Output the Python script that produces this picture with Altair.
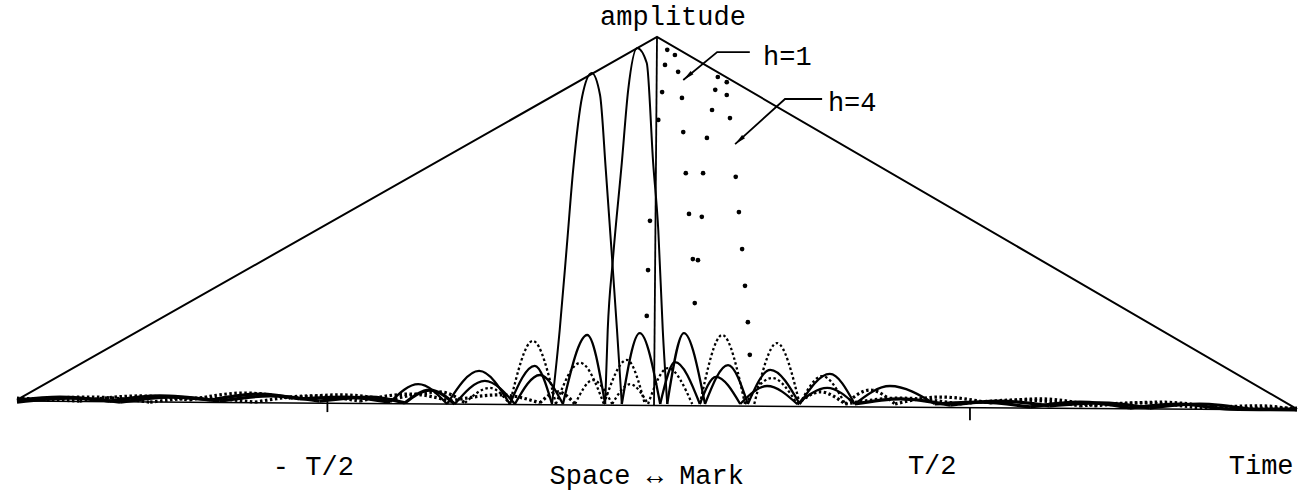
import altair as alt
import pandas as pd

# Time axis in units of T/10 (T/2 = 5), amplitude normalised to the apex.
X_DOMAIN = [-10.2656, 10.2656]
Y_DOMAIN = [-0.2425, 1.1008]
INK = "#000000"
FONT = "Liberation Mono"

# Triangular envelope (-T .. 0 .. T)
env_t = [-10.0, 0.0, 10.0]
env_a = [0.011, 1.0, -0.014]

# Time axis line and the +/- T/2 ticks
axis_t = [-10.0, 10.0]
axis_a = [0.008, -0.016]
tick_t = [-5.15, 4.89]
tick_top = [0.011, -0.011]
tick_bot = [-0.022, -0.044]

# Centre spike
spike_t = [-0.047, 0.0]
spike_a = [-0.003, 1.0]

# Solid responses (two pulses with their side lobes and tails)
p1_t = [-10.0, -9.33, -8.55, -7.77, -6.98, -6.20, -5.58, -4.875, -4.17, -3.73, -3.28,
        -2.78, -2.30, -1.91, -1.64, -1.52, -1.41, -1.31, -1.17, -1.02, -0.89, -0.80,
        -0.70, -0.625, -0.55, -0.27, 0.05, 0.28, 0.67, 0.92, 1.30, 1.72, 2.19, 2.66,
        3.09, 3.80, 4.58, 5.36, 6.14, 6.92, 7.70, 8.48, 9.27, 10.0]
p1_a = [0.011, 0.019, 0.008, 0.022, 0.011, 0.027, 0.014, 0.019, 0.005, 0.054, 0.0,
        0.090, 0.0, 0.104, 0.0, 0.202, 0.428, 0.638, 0.837, 0.902, 0.842, 0.638,
        0.392, 0.202, 0.0, 0.193, 0.0, 0.114, 0.0, 0.074, 0.0, 0.049, 0.0, 0.044,
        0.0, 0.014, -0.003, 0.008, -0.005, 0.003, -0.011, 0.0, -0.014, -0.014]

p2_t = [-10.0, -9.17, -8.39, -7.61, -6.83, -6.05, -5.27, -4.48, -3.94, -3.55, -3.16,
        -2.69, -2.22, -1.83, -1.47, -1.09, -0.81, -0.77, -0.69, -0.55, -0.45, -0.31,
        -0.16, -0.06, 0.02, 0.09, 0.16, 0.42, 0.75, 1.11, 1.42, 1.77, 2.23, 2.70,
        3.09, 3.64, 4.34, 5.05, 5.83, 6.61, 7.39, 8.17, 8.95, 10.0]
p2_a = [0.005, 0.016, 0.005, 0.019, 0.008, 0.022, 0.008, 0.019, 0.003, 0.038, 0.0,
        0.063, 0.0, 0.079, 0.0, 0.188, 0.0, 0.202, 0.392, 0.657, 0.856, 0.970,
        0.929, 0.657, 0.474, 0.202, 0.0, 0.193, 0.0, 0.106, 0.0, 0.093, 0.0, 0.082,
        0.0, 0.049, 0.0, 0.005, -0.008, 0.005, -0.011, 0.0, -0.014, -0.016]

# Dotted responses: side lobes (dotted lines) ...
h1_left_t = [-10.0, -9.02, -8.08, -7.30, -6.44, -5.73, -4.95, -4.17, -3.39, -3.00,
             -2.61, -2.30, -1.94, -1.58, -1.20, -0.83, -0.47, -0.19]
h1_left_a = [0.016, 0.008, 0.022, 0.011, 0.030, 0.016, 0.025, 0.011, 0.033, 0.003,
             0.044, 0.0, 0.172, 0.0, 0.112, 0.0, 0.120, 0.0]
h1_right_t = [0.67, 1.02, 1.375, 1.80, 2.19, 2.55, 2.94, 3.80, 4.73, 5.67, 6.61,
              7.55, 8.48, 9.42, 10.0]
h1_right_a = [0.0, 0.188, 0.0, 0.071, 0.0, 0.033, 0.0, 0.016, 0.0, 0.011, -0.005,
              0.003, -0.011, -0.005, -0.016]

h4_left_t = [-10.0, -8.86, -7.92, -7.14, -6.28, -5.42, -4.64, -3.86, -3.23, -2.45,
             -1.83, -1.55, -1.28, -1.00, -0.70, -0.42, -0.14, 0.17, 0.55]
h4_left_a = [0.008, 0.019, 0.005, 0.016, 0.005, 0.022, 0.008, 0.027, 0.008, 0.025,
             0.003, 0.033, 0.0, 0.065, 0.0, 0.054, 0.0, 0.098, 0.0]
h4_right_t = [1.52, 1.875, 2.23, 2.58, 2.94, 3.33, 3.72, 4.42, 5.20, 5.98, 6.84,
              7.86, 8.80, 10.0]
h4_right_a = [0.0, 0.166, 0.0, 0.076, 0.0, 0.038, 0.0, 0.019, 0.003, 0.014, -0.005,
              0.005, -0.011, -0.011]

# ... and main lobes plotted point by point
h1_dot_t = [0.16, 0.28, 0.125, 0.33, 0.08, 0.39, 0.02, 0.41, 0.45, 0.50, 0.56, 0.59,
            -0.11, -0.14, -0.16]
h1_dot_a = [0.965, 0.951, 0.924, 0.905, 0.850, 0.834, 0.774, 0.741, 0.629, 0.518,
            0.395, 0.275, 0.499, 0.365, 0.240]
h4_dot_t = [0.95, 1.09, 0.91, 1.09, 0.86, 1.14, 0.78, 0.72, 1.23, 0.70, 1.28, 0.64,
            1.33, 1.375, 1.42, 1.45]
h4_dot_a = [0.891, 0.877, 0.856, 0.842, 0.801, 0.779, 0.725, 0.629, 0.619, 0.510,
            0.523, 0.392, 0.422, 0.322, 0.223, 0.134]

# Leader lines for the h labels
lead_h1_t = [0.41, 0.94, 1.45]
lead_h1_a = [0.883, 0.959, 0.959]
lead_h4_t = [1.22, 2.0, 2.58]
lead_h4_a = [0.708, 0.831, 0.831]

# Text labels
centre_labels = ["amplitude", "- T/2", "T/2", "Time", "Space \u2194 Mark"]
centre_label_t = [0.25, -5.37, 4.30, 9.44, -0.16]
centre_label_a = [1.033, -0.193, -0.191, -0.191, -0.218]
side_labels = ["h=1", "h=4"]
side_label_t = [1.656, 2.67]
side_label_a = [0.924, 0.798]

xs = alt.Scale(domain=X_DOMAIN, nice=False, zero=False)
ys = alt.Scale(domain=Y_DOMAIN, nice=False, zero=False)


def X(field="t"):
    return alt.X(f"{field}:Q", scale=xs, axis=None)


def Y(field="a"):
    return alt.Y(f"{field}:Q", scale=ys, axis=None)


def frame(t, a, name="s"):
    return pd.DataFrame({"t": t, "a": a, "k": [name] * len(t)})


def lobes(t, a, name):
    """Cut a response into separate lobes at its minima so each lobe is drawn
    as its own arch (cusps at the nulls). Tall lobes get a finer pen, the
    low ripple near the axis a heavier one."""
    rows, seg = [], 0
    for i in range(len(t)):
        rows.append([t[i], a[i], f"{name}-{seg}"])
        if 0 < i < len(t) - 1 and a[i] <= a[i - 1] and a[i] <= a[i + 1]:
            seg += 1
            rows.append([t[i], a[i], f"{name}-{seg}"])
    df = pd.DataFrame(rows, columns=["t", "a", "k"])
    peak = df.groupby("k")["a"].transform("max")
    df["w"] = 2.3
    df.loc[peak > 0.3, "w"] = 2.0
    df.loc[peak < 0.04, "w"] = 3.2
    return df


envelope = alt.Chart(frame(env_t, env_a)).mark_line(color=INK, strokeWidth=2).encode(x=X(), y=Y())
axis_line = alt.Chart(frame(axis_t, axis_a)).mark_line(color=INK, strokeWidth=1.4).encode(x=X(), y=Y())
ticks = alt.Chart(pd.DataFrame({"t": tick_t, "a": tick_top, "a2": tick_bot})).mark_rule(
    color=INK, strokeWidth=1.8).encode(x=X(), y=Y(), y2="a2:Q")
spike = alt.Chart(frame(spike_t, spike_a)).mark_line(color=INK, strokeWidth=1.8).encode(x=X(), y=Y())

solid = pd.concat([lobes(p1_t, p1_a, "p1"), lobes(p2_t, p2_a, "p2")])
solid_lines = alt.Chart(solid).mark_line(
    color=INK, interpolate="monotone").encode(
    x=X(), y=Y(), detail="k:N", strokeWidth=alt.StrokeWidth("w:Q", scale=None))

dotted = pd.concat([lobes(h1_left_t, h1_left_a, "h1l"), lobes(h1_right_t, h1_right_a, "h1r"),
                    lobes(h4_left_t, h4_left_a, "h4l"), lobes(h4_right_t, h4_right_a, "h4r")])
dotted_lines = alt.Chart(dotted).mark_line(
    color=INK, strokeDash=[2.5, 2.5], interpolate="monotone").encode(
    x=X(), y=Y(), detail="k:N", strokeWidth=alt.StrokeWidth("w:Q", scale=None))

dots = alt.Chart(pd.concat([frame(h1_dot_t, h1_dot_a, "h1"), frame(h4_dot_t, h4_dot_a, "h4")])).mark_circle(
    color=INK, size=22, opacity=1).encode(x=X(), y=Y())

leaders = alt.Chart(pd.concat([frame(lead_h1_t, lead_h1_a, "h1"), frame(lead_h4_t, lead_h4_a, "h4")])).mark_line(
    color=INK, strokeWidth=1.8).encode(x=X(), y=Y(), detail="k:N")

ARROW = "M0,0L0.38,2L-0.38,2Z"
head_h1 = alt.Chart(frame(lead_h1_t[:1], lead_h1_a[:1])).mark_point(
    shape=ARROW, filled=True, size=130, angle=230.5, color=INK, opacity=1).encode(x=X(), y=Y())
head_h4 = alt.Chart(frame(lead_h4_t[:1], lead_h4_a[:1])).mark_point(
    shape=ARROW, filled=True, size=130, angle=228, color=INK, opacity=1).encode(x=X(), y=Y())

text_c = alt.Chart(pd.DataFrame({"t": centre_label_t, "a": centre_label_a, "s": centre_labels})).mark_text(
    font=FONT, fontSize=27, color=INK, align="center", baseline="alphabetic").encode(x=X(), y=Y(), text="s:N")
text_l = alt.Chart(pd.DataFrame({"t": side_label_t, "a": side_label_a, "s": side_labels})).mark_text(
    font=FONT, fontSize=27, color=INK, align="left", baseline="alphabetic").encode(x=X(), y=Y(), text="s:N")

chart = alt.layer(
    axis_line, ticks, envelope, dotted_lines, solid_lines, spike, dots, leaders,
    head_h1, head_h4, text_c, text_l,
).properties(
    width=1314, height=493, padding=0,
    autosize=alt.AutoSizeParams(type="none"),
    background="white",
).configure_view(stroke=None)

chart.save("out.html", embed_options={"renderer": "svg", "actions": False})
